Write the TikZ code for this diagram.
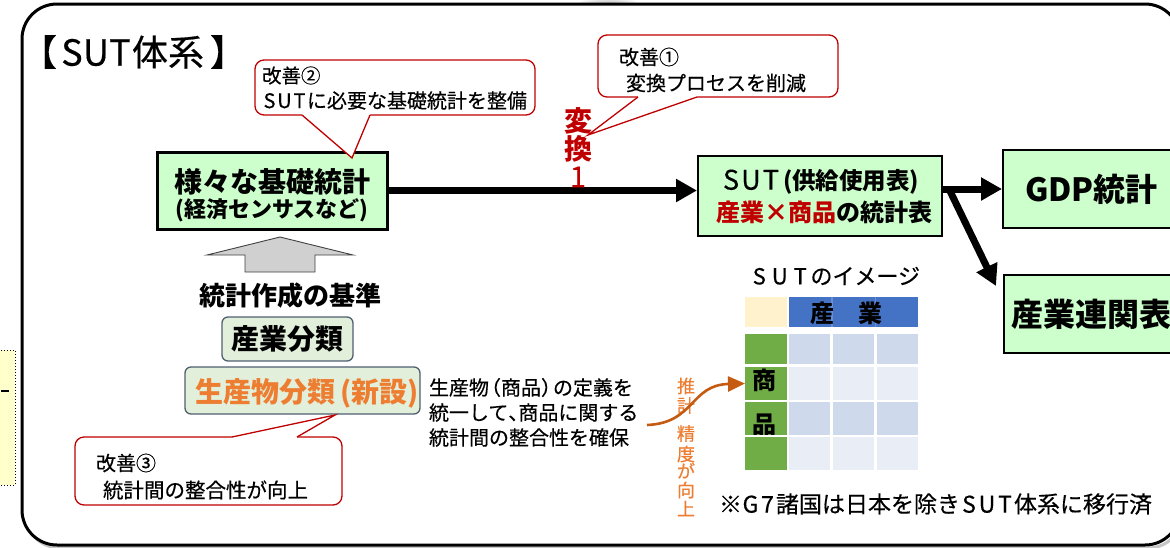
\documentclass[tikz,border=0pt]{standalone}
\usepackage{fontspec}
\setmainfont{Noto Sans CJK JP}[UprightFeatures={FakeBold=0.4}]
\usetikzlibrary{arrows.meta,calc}
\definecolor{boxgreen}{HTML}{CCFFCC}
\definecolor{clsfill}{HTML}{E2EFDA}
\definecolor{clsline}{HTML}{4F6071}
\definecolor{cred}{HTML}{C00000}
\definecolor{corange}{HTML}{ED7D31}
\definecolor{carrow}{HTML}{C55A11}
\definecolor{hblue}{HTML}{4472C4}
\definecolor{hblueline}{HTML}{6A8FD3}
\definecolor{hcream}{HTML}{FFF2CC}
\definecolor{cgreen}{HTML}{70AD47}
\definecolor{cellA}{HTML}{CFD9EC}
\definecolor{cellB}{HTML}{E9EDF6}
\definecolor{lyellow}{HTML}{FFFFCC}
\definecolor{agray}{HTML}{D0D0D0}
\newcommand\fs[1]{\fontsize{#1}{#1}\selectfont}
\newcommand\lw[2]{\makebox[#1pt]{#2}}
\begin{document}
\begin{tikzpicture}[x=1pt,y=-1pt,
  gbox/.style={draw=black, fill=boxgreen, inner sep=0},
  cls/.style={draw=clsline, fill=clsfill, rounded corners=6, line width=1.3, inner sep=0},
  txt/.style={inner sep=0, outer sep=0},
  cbox/.style={draw=cred, fill=white, line width=1.3, rounded corners=9},
  cptr/.style={draw=cred, line width=1.3, line join=miter},
  bigarrow/.style={line width=7, -{Triangle[length=21pt,width=22pt]}},
  cellnode/.style={inner sep=0, outer sep=0}
]
\useasboundingbox (0,0) rectangle (1170,547);
\clip (0,0) rectangle (1170,547);
\fill[white] (0,0) rectangle (1170,547);

% left partial box
\draw[dotted, line width=1, fill=lyellow] (-5,350) rectangle (15,485);
\draw[line width=1.5] (1,391) -- (9,391);

% top blur
\shade[inner color=gray!55, outer color=white] (608,4) ellipse (32 and 8);

% frame shadow and frame
\draw[gray!45, line width=3, rounded corners=35] (25,8) rectangle (1183,548);
\draw[line width=3, rounded corners=35, fill=white] (22,4) rectangle (1180,545);

% title
\node[txt, anchor=west] (title) at (21,52) {\fs{36}【\hspace{3pt}\lw{24}{S}\lw{24}{U}\lw{24}{T}体系\hspace{6pt}】};

% basic statistics box
\node[gbox, line width=3, minimum width=230, minimum height=77] (kiso) at (272,190.5) {};
\node[txt] (kiso1) at (272,182) {\fs{28}\bfseries 様々な基礎統計};
\node[txt] (kiso2) at (272,210) {\fs{22}\bfseries (経済センサスなど)};

% SUT box
\node[gbox, line width=2, minimum width=244, minimum height=80] (sut) at (820,196) {};
\node[txt, anchor=west] (sut1) at (721,182) {\fs{27}\lw{20}{S}\lw{20}{U}\lw{20}{T}\fs{23.5}\bfseries\hspace{2pt}(供給使用表)};
\node[txt] (sut2) at (824,212.5) {\fs{24}\bfseries\textcolor{cred}{産業×商品}の統計表};

% GDP and IO
\node[gbox, line width=2, minimum width=177, minimum height=78] (gdp) at (1091.5,189) {\fs{32}\bfseries GDP統計};
\node[gbox, line width=2, minimum width=174, minimum height=78] (io) at (1091,314) {\fs{32}\bfseries 産業連関表};

% arrows
\draw[bigarrow] (kiso.east) -- (kiso.east -| sut.west);
\draw[bigarrow] (sut.east |- gdp.west) -- (gdp.west);
\coordinate (fork) at ($(sut.east |- gdp.west)+(6,0)$);
\draw[bigarrow] (fork) -- ($(io.north west)+(-7,12)$);

% henkan 1
\node[txt, text=cred] (h1) at (578,121) {\fs{28}\bfseries 変};
\node[txt, text=cred] (h2) at (578,149) {\fs{28}\bfseries 換};
\node[txt, text=cred] (h3) at (578,177) {\fs{29}1};

% callout 2
\draw[cbox] (255,60) rectangle (535,115);
\fill[white] (302,113.4) -- (302,115) -- (352,158) -- (370,115) -- (370,113.4) -- cycle;
\draw[cptr] (302,115) -- (352,158) -- (370,115);
\node[txt, anchor=west] (k2a) at (262,75.5) {\fs{19.5}改善②};
\node[txt, anchor=west] (k2b) at (262,100.5) {\fs{20}\lw{15}{S}\lw{15}{U}\lw{15}{T}に必要な基礎統計を整備};

% callout 1
\draw[cbox] (598,35) rectangle (838,97);
\fill[white] (638,95.4) -- (638,97) -- (588,135) -- (697,97) -- (697,95.4) -- cycle;
\draw[cptr] (638,97) -- (588,135) -- (697,97);
\node[txt, anchor=west] (k1a) at (619,57) {\fs{20}改善①};
\node[txt, anchor=west] (k1b) at (626,83) {\fs{20}変換プロセスを削減};

% gray up arrow
\draw[draw=black!75, line width=0.9, fill=agray, line join=miter]
  (245,272) -- (245,255) -- (207,255) -- (280,237) -- (353,255) -- (315,255) -- (315,272) -- cycle;

\node[txt] (kijun) at (290,296) {\fs{26}\bfseries 統計作成の基準};

\node[cls, minimum width=131, minimum height=44] (sangyo) at (287.5,339) {\fs{28}\bfseries 産業分類};
\node[cls, minimum width=235, minimum height=47] (seisan) at (302.5,390.5) {};
\node[txt, text=corange] (seisant) at (307,393) {\fs{28}\bfseries 生産物分類\,(新設)};

% callout 3
\draw[cbox] (75,437) rectangle (342,505);
\fill[white] (232,438.6) -- (232,437) -- (335,415) -- (297,437) -- (297,438.6) -- cycle;
\draw[cptr] (232,437) -- (335,415) -- (297,437);
\node[txt, anchor=west] (k3a) at (96,463) {\fs{20}改善③};
\node[txt, anchor=west] (k3b) at (103,490) {\fs{20.5}統計間の整合性が向上};

% explanation text
\node[txt, anchor=west] (e1) at (429,387.5) {\fs{20}生産物\makebox[12pt][r]{（}商品\makebox[12pt][l]{）}の定義を};
\node[txt, anchor=west] (e2) at (429,412.5) {\fs{20}統一して\makebox[10pt][l]{、}商品に関する};
\node[txt, anchor=west] (e3) at (429,437.5) {\fs{20}統計間の整合性を確保};

% SUT image
\node[txt, anchor=west] (img) at (749,276) {\fs{22}\lw{20.5}{S}\lw{20.5}{U}\lw{20.5}{T}のイメージ};
\fill[hcream] (745,297) rectangle (787,327);
\fill[hblue] (789,297) rectangle (918,327);
\fill[hblueline] (831,297) rectangle (832.5,327);
\fill[hblueline] (874.5,297) rectangle (876,327);
\node[txt] (hdr) at (846,313) {\fs{24}\bfseries 産　業};
\fill[cgreen] (745,334) rectangle (787,364);
\node[cellnode, fill=cgreen, minimum width=42, minimum height=33] (sho) at (766,383.5) {};
\fill[cgreen] (745,402) rectangle (787,435);
\foreach \xa/\xb in {789/830,833/874,877/918}{
  \fill[cellA] (\xa,334) rectangle (\xb,364);
  \fill[cellB] (\xa,367) rectangle (\xb,400);
  \fill[cellA] (\xa,402) rectangle (\xb,435);
  \fill[cellB] (\xa,437) rectangle (\xb,470);
}
\node[txt] (shoT) at (764,380) {\fs{24}\bfseries 商};
\node[txt] (hinT) at (764,425) {\fs{24}\bfseries 品};
\fill[white] (745,435) rectangle (787,437);
\fill[cgreen] (745,437) rectangle (787,470);

% orange vertical text
\foreach \c/\yy in {推/386,計/405.5,精/433.5,度/454,が/470.5,向/490,上/508.5}{
  \node[txt, text=corange] at (686,\yy) {\fs{18}\c};
}
\coordinate (tstart) at (647,425);
\draw[carrow, line width=2.6, -{Triangle[length=17pt,width=15pt]}]
  (tstart) .. controls (695,423) and (690,385) .. (sho.west);

% footnote
\node[txt, anchor=west] (note) at (719,504) {\fs{23}※\lw{17}{G}\lw{17}{7}諸国は日本を除き\lw{18}{S}\lw{18}{U}\lw{18}{T}体系に移行済};
\end{tikzpicture}
\end{document}
